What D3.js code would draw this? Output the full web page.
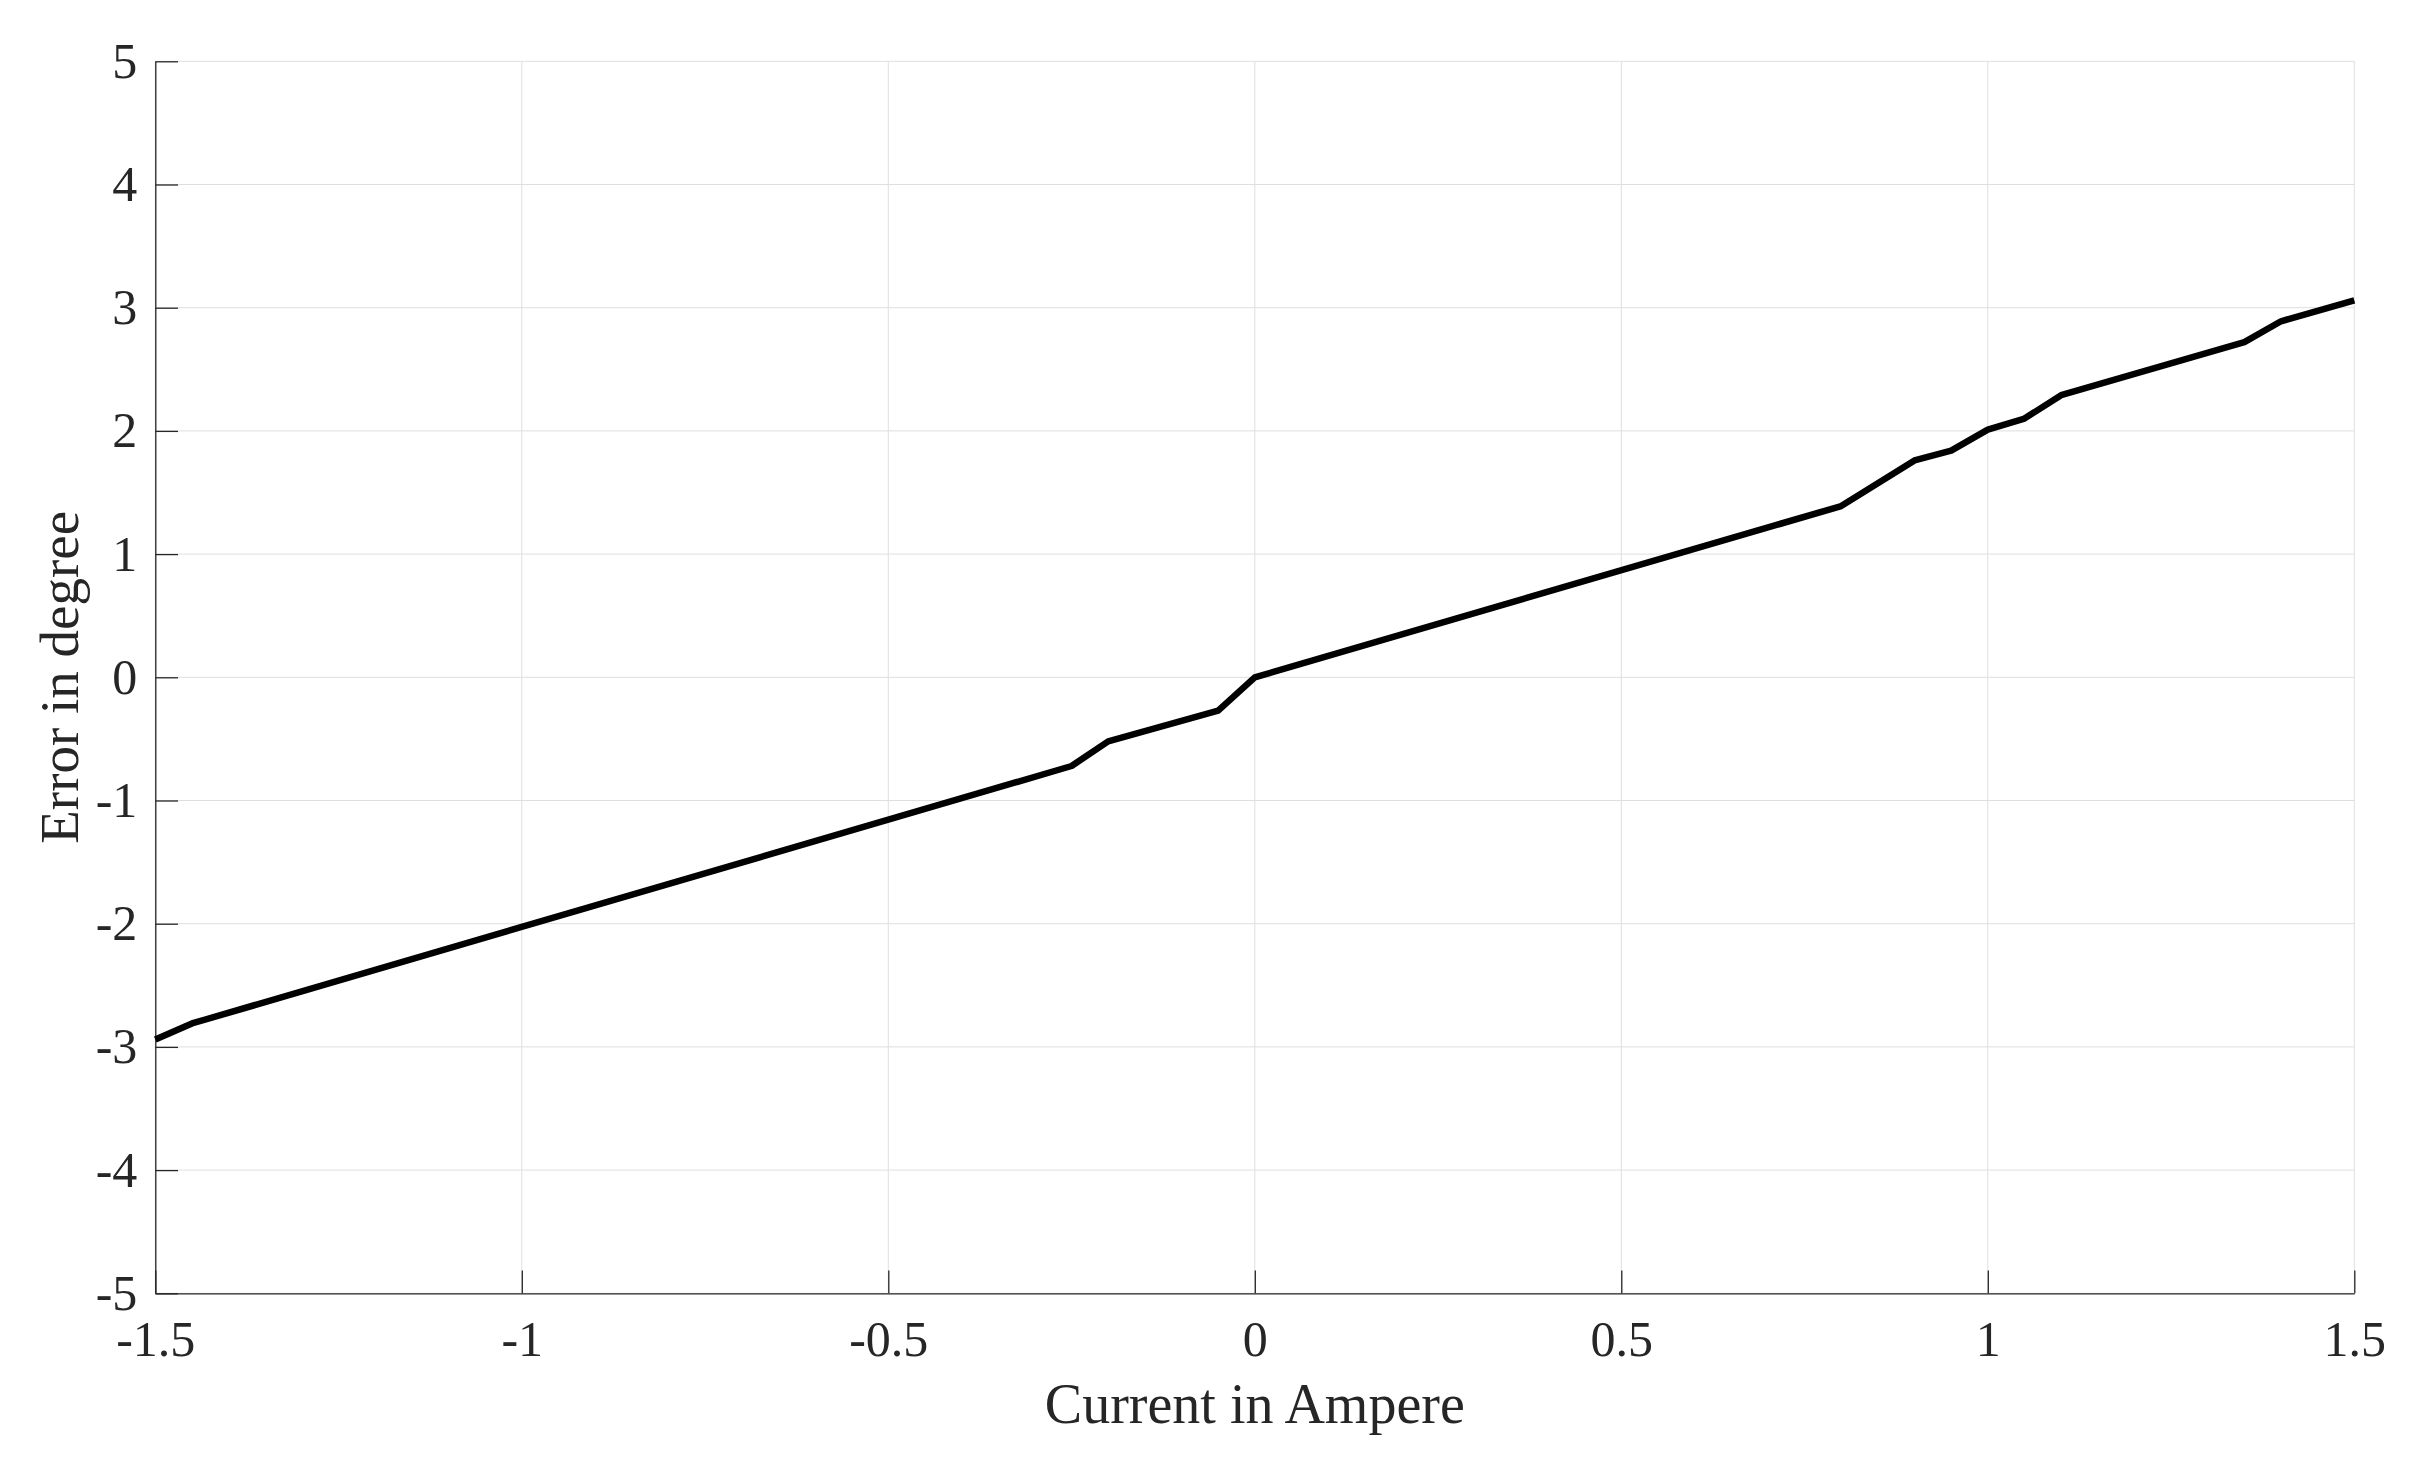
<!DOCTYPE html>
<html>
<head>
<meta charset="utf-8">
<script src="https://cdn.jsdelivr.net/npm/d3@7"></script>
<style>
  html, body { margin: 0; padding: 0; background: #ffffff; }
  svg { display: block; }
  text { font-family: "Liberation Serif", "Times New Roman", serif; fill: #262626; }
</style>
</head>
<body>
<svg id="chart" width="2410" height="1460"></svg>
<script>
// Data
const currentA = [-1.5, -1.45, -0.25, -0.2, -0.05, 0, 0.8, 0.9, 0.95, 1.0, 1.05, 1.1, 1.35, 1.4, 1.5];
const errorDeg = [-2.94, -2.81, -0.72, -0.52, -0.27, 0, 1.39, 1.76, 1.84, 2.01, 2.10, 2.29, 2.72, 2.89, 3.06];

const xTicks = [-1.5, -1, -0.5, 0, 0.5, 1, 1.5];
const xTickLabels = ["-1.5", "-1", "-0.5", "0", "0.5", "1", "1.5"];
const yTicks = [-5, -4, -3, -2, -1, 0, 1, 2, 3, 4, 5];
const yTickLabels = ["-5", "-4", "-3", "-2", "-1", "0", "1", "2", "3", "4", "5"];

const xTitle = "Current in Ampere";
const yTitle = "Error in degree";

const margin = { left: 155.3, right: 2354.3, top: 61.3, bottom: 1293.3 };
const svg = d3.select("#chart");

const x = d3.scaleLinear().domain([-1.5, 1.5]).range([margin.left, margin.right]);
const y = d3.scaleLinear().domain([-5, 5]).range([margin.bottom, margin.top]);

// Grid
const grid = svg.append("g");
grid.selectAll("line.gx").data(xTicks).join("line")
  .attr("x1", d => x(d)).attr("x2", d => x(d))
  .attr("y1", margin.top).attr("y2", margin.bottom)
  .attr("stroke", "#dfdfdf").attr("stroke-width", 1);
grid.selectAll("line.gy").data(yTicks).join("line")
  .attr("y1", d => y(d)).attr("y2", d => y(d))
  .attr("x1", margin.left).attr("x2", margin.right)
  .attr("stroke", "#dfdfdf").attr("stroke-width", 1);

// Axes
const xAxis = d3.axisBottom(x).tickValues(xTicks)
  .tickFormat((d, i) => xTickLabels[i])
  .tickSizeInner(-22.7).tickSizeOuter(0).tickPadding(27);
const yAxis = d3.axisLeft(y).tickValues(yTicks)
  .tickFormat((d, i) => yTickLabels[i])
  .tickSizeInner(-22.7).tickSizeOuter(0).tickPadding(18);

const gx = svg.append("g").attr("transform", `translate(0,${margin.bottom})`).call(xAxis);
const gy = svg.append("g").attr("transform", `translate(${margin.left},0)`).call(yAxis);

[gx, gy].forEach(g => {
  g.selectAll(".domain").attr("stroke", "#262626").attr("stroke-width", 1.3);
  g.selectAll(".tick line").attr("stroke", "#262626").attr("stroke-width", 1.3);
  g.selectAll(".tick text")
    .attr("font-family", "Liberation Serif, Times New Roman, serif")
    .attr("font-size", 50).attr("fill", "#262626");
});

// Line
const line = d3.line().x((d, i) => x(currentA[i])).y((d, i) => y(errorDeg[i]));
svg.append("path")
  .datum(errorDeg)
  .attr("d", line)
  .attr("fill", "none")
  .attr("stroke", "#000000")
  .attr("stroke-width", 6.5)
  .attr("stroke-linejoin", "round");

// Titles
svg.append("text")
  .attr("x", (margin.left + margin.right) / 2)
  .attr("y", 1423)
  .attr("text-anchor", "middle")
  .attr("font-size", 56)
  .text(xTitle);

svg.append("text")
  .attr("transform", `translate(78,${(margin.top + margin.bottom) / 2}) rotate(-90)`)
  .attr("text-anchor", "middle")
  .attr("font-size", 55)
  .text(yTitle);
</script>
</body>
</html>
